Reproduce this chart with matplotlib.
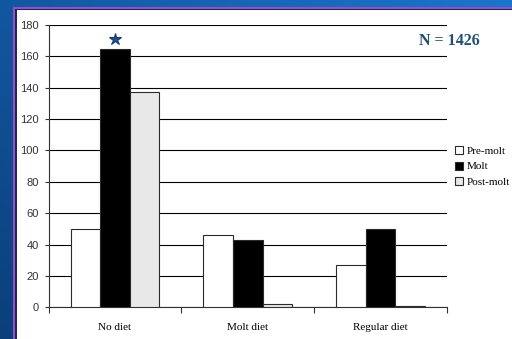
import numpy as np
import matplotlib.pyplot as plt
from matplotlib.patches import Rectangle

categories = ['No diet', 'Molt diet', 'Regular diet']
series = ['Pre-molt', 'Molt', 'Post-molt']
pre_molt = [50, 46, 27]
molt = [165, 43, 50]
post_molt = [137, 2, 1]
yticks = list(range(0, 181, 20))

fig = plt.figure(figsize=(5.12, 3.39), dpi=100)

# slide background: blue gradient
bg = fig.add_axes([0, 0, 1, 1], zorder=-10)
gy, gx = np.mgrid[0:1:200j, 0:1:200j]
grad = 0.55 * gx + 0.45 * (1 - gy)
bg.imshow(grad, cmap=plt.matplotlib.colors.LinearSegmentedColormap.from_list(
    'slide', ['#0a3f7a', '#1a76cc']), extent=[0, 1, 0, 1], aspect='auto', origin='upper')
bg.set_xlim(0, 1)
bg.set_ylim(0, 1)
bg.axis('off')
# white chart panel with purple/navy border
bg.add_patch(Rectangle((13 / 512, -0.1), 1.2, 1 - 7 / 339 + 0.1, fc='#9a4cd0', ec='none'))
bg.add_patch(Rectangle((15 / 512, -0.1), 1.2, 1 - 9 / 339 + 0.1, fc='#1a2a55', ec='none'))
bg.add_patch(Rectangle((16.5 / 512, -0.1), 1.2, 1 - 10 / 339 + 0.1, fc='white', ec='none'))

ax = fig.add_axes([48.5 / 512, 1 - 307.3 / 339, (447 - 48.5) / 512, (307.3 - 25) / 339])
ax.set_facecolor('none')

x = np.arange(len(categories))
w = 1 / 4.5
colors = ['white', 'black', '#e8e8e8']
for i, vals in enumerate([pre_molt, molt, post_molt]):
    ax.bar(x + (i - 1) * w, vals, w, color=colors[i], edgecolor='#2a2a2a',
           linewidth=0.8, label=series[i], zorder=3)

ax.set_xlim(-0.5, 2.5)
ax.set_ylim(0, 180)
ax.set_yticks(yticks)
ax.set_yticklabels([str(t) for t in yticks], fontsize=8, color='#333333',
                   fontfamily='Liberation Sans')
ax.yaxis.grid(True, color='black', linewidth=0.8, zorder=0)
ax.set_axisbelow(True)
ax.set_xticks([-0.5, 0.5, 1.5, 2.5])
ax.set_xticklabels([])
ax.set_xticks(x, minor=True)
ax.set_xticklabels(categories, minor=True, fontsize=8, fontfamily='Liberation Serif')
ax.tick_params(axis='x', which='minor', length=0, pad=11)
ax.tick_params(axis='x', which='major', length=4, width=0.8, color='#333333')
ax.tick_params(axis='y', length=3, width=0.8, color='#333333', pad=4)
for s in ['top', 'right']:
    ax.spines[s].set_visible(False)
for s in ['left', 'bottom']:
    ax.spines[s].set_color('#333333')
    ax.spines[s].set_linewidth(0.8)

# significance marker above the molt bar
ax.plot(0, molt[0] + 6, marker='*', markersize=9, color='#1f4f8f',
        markeredgecolor='#163d70', markeredgewidth=0.8, zorder=4, clip_on=False)

fig.text(449 / 512, 1 - 41 / 339, 'N = 1426', ha='center', va='center', fontsize=11.5,
         fontweight='bold', color='#1f4e79', fontfamily='Liberation Serif')

leg = ax.legend(loc='upper left', bbox_to_anchor=(455 / 512, 1 - 146 / 339),
                bbox_transform=fig.transFigure, frameon=False,
                prop={'family': 'Liberation Serif', 'size': 8},
                handlelength=0.75, handleheight=0.75, handletextpad=0.3,
                labelspacing=0.5, borderpad=0, borderaxespad=0)

fig.savefig('out.png', dpi=100)
